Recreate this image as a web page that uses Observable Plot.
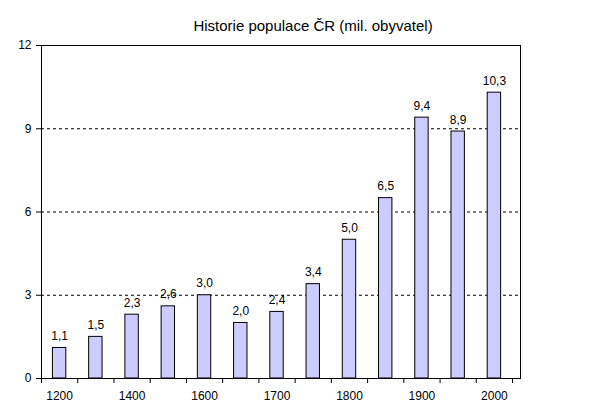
<!DOCTYPE html>
<html>
<head>
<meta charset="utf-8">
<script src="https://cdn.jsdelivr.net/npm/d3@7"></script>
<script src="https://cdn.jsdelivr.net/npm/@observablehq/plot@0.6"></script>
<style>
  html, body { margin: 0; padding: 0; background: #fff; }
  svg { display: block; }
</style>
</head>
<body>
<div id="chart"></div>
<script>
const years = ["1200","1300","1400","1500","1600","1650","1700","1750","1800","1850","1900","1950","2000"];
const population = [1.1, 1.5, 2.3, 2.6, 3.0, 2.0, 2.4, 3.4, 5.0, 6.5, 9.4, 8.9, 10.3];
const yTicks = [0, 3, 6, 9, 12];
const gridValues = [3, 6, 9];
const labelledYears = ["1200","1400","1600","1700","1800","1900","2000"];
const title = "Historie populace ČR (mil. obyvatel)";

const data = years.map((year, i) => ({i, year, value: population[i]}));
const halfBar = 0.185;
const fmt = v => v.toFixed(1).replace(".", ",");

const chart = Plot.plot({
  width: 604,
  height: 412,
  marginTop: 45,
  marginLeft: 41,
  marginRight: 84,
  marginBottom: 34,
  style: {fontFamily: "'Liberation Sans', Arial, sans-serif", fontSize: "12px", color: "black", background: "white"},
  x: {domain: [-0.5, 12.72]},
  y: {domain: [0, 12]},
  marks: [
    Plot.ruleY(gridValues, {stroke: "black", strokeDasharray: "3,3", strokeWidth: 1}),
    Plot.rectY(data, {x1: d => d.i - halfBar, x2: d => d.i + halfBar, y1: 0, y2: "value", fill: "#ccccff", stroke: "black", strokeWidth: 1}),
    Plot.text(data, {x: "i", y: "value", text: d => fmt(d.value), lineAnchor: "bottom", dy: -8, fontSize: 12, fill: "black"}),
    Plot.frame({stroke: "black"}),
    Plot.axisY({ticks: yTicks, tickSize: 5, tickPadding: 5, label: null, fontSize: 12}),
    Plot.axisX({ticks: d3.range(-0.5, 13, 1), tickSize: 5, tickFormat: () => "", label: null}),
    Plot.axisX({ticks: labelledYears.map(y => years.indexOf(y)), tickSize: 0, tickPadding: 13, tickFormat: i => years[i], label: null, fontSize: 12}),
    Plot.text([title], {frameAnchor: "top", dx: 32, dy: -19, lineAnchor: "middle", fontSize: 15, fill: "black"})
  ]
});
document.getElementById("chart").append(chart);
</script>
</body>
</html>
